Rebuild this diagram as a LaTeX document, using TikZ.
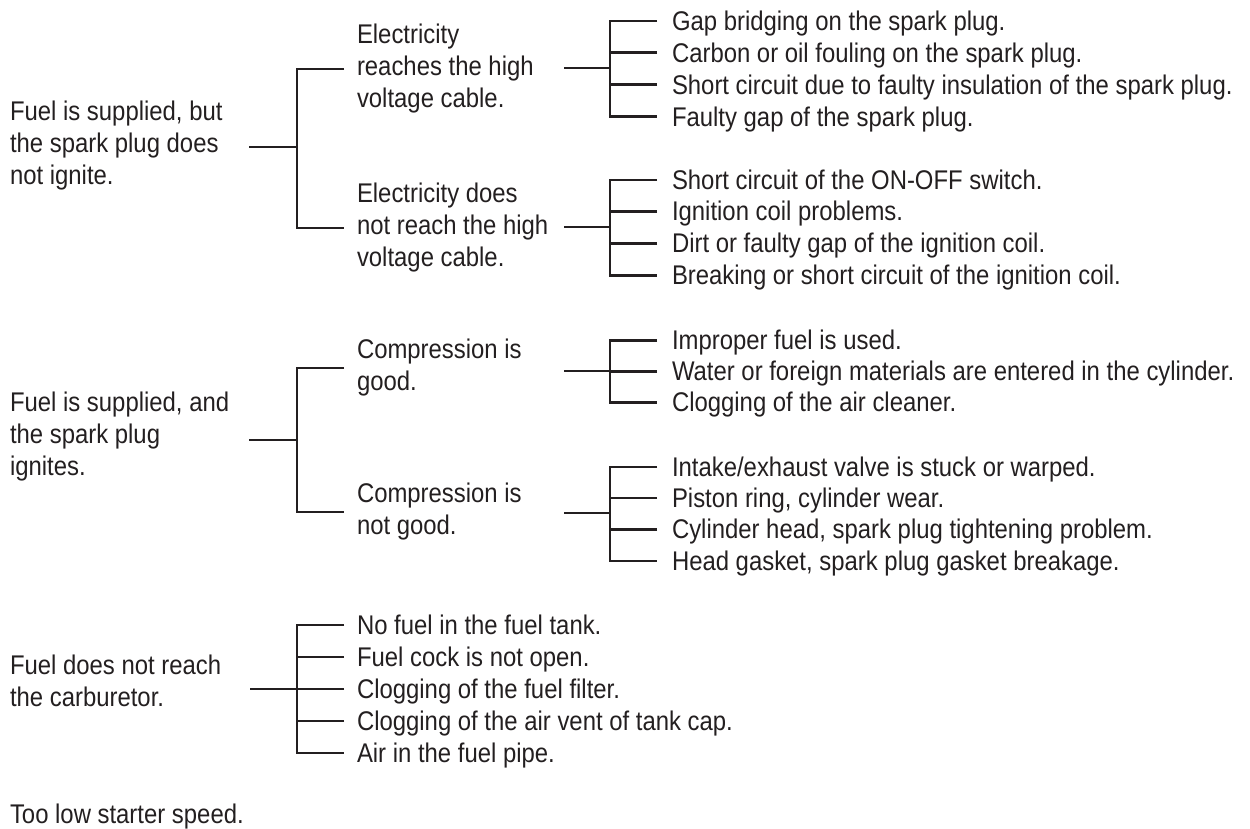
\documentclass[tikz,border=0pt]{standalone}
\usepackage{fontspec}
\setmainfont[FakeStretch=0.885]{Liberation Sans}
\definecolor{ink}{HTML}{231F20}
\newcommand\lstr{\rule[-5pt]{0pt}{29.4pt}}
\tikzset{
  lbl/.style={inner sep=0pt, outer sep=0pt, anchor=west, align=left, text=ink,
    font=\fontsize{27}{32}\selectfont,
    execute at begin node=\lstr, execute at end node=\lstr},
  wire/.style={draw=ink, line width=2.8pt}
}
\begin{document}
\begin{tikzpicture}[x=1pt,y=-1pt]
\useasboundingbox (0,0) rectangle (1250,829);

% ---------- group 1 ----------
\node[lbl] (g1) at (10,146) {Fuel is supplied, but\\the spark plug does\\not ignite.};
\node[lbl] (e1) at (357,69) {Electricity\\reaches the high\\voltage cable.};
\node[lbl] (e2) at (357,228) {Electricity does\\not reach the high\\voltage cable.};
\node[lbl] (a1) at (672,21) {Gap bridging on the spark plug.};
\node[lbl] (a2) at (672,52.9) {Carbon or oil fouling on the spark plug.};
\node[lbl] (a3) at (672,84.8) {Short circuit due to faulty insulation of the spark plug.};
\node[lbl] (a4) at (672,116.7) {Faulty gap of the spark plug.};
\node[lbl] (b1) at (672,180) {Short circuit of the ON-OFF switch.};
\node[lbl] (b2) at (672,211.5) {Ignition coil problems.};
\node[lbl] (b3) at (672,243.5) {Dirt or faulty gap of the ignition coil.};
\node[lbl] (b4) at (672,275.5) {Breaking or short circuit of the ignition coil.};

\coordinate (g1s) at (249,147);
\coordinate (g1j) at (297,147);
\coordinate (e1s) at (564,68);
\coordinate (e1j) at (610,68);
\coordinate (e2s) at (564,227);
\coordinate (e2j) at (610,227);

\draw[wire] (g1s) -- (g1j);
\draw[wire] ([xshift=-13pt]e1.west) -- (e1.west -| g1j) -- (e2.west -| g1j) -- ([xshift=-13pt]e2.west);
\draw[wire] (e1s) -- (e1j);
\draw[wire] ([xshift=-15pt]a1.west) -- (a1.west -| e1j) -- (a4.west -| e1j) -- ([xshift=-15pt]a4.west);
\foreach \n in {a2,a3} \draw[wire] ([xshift=-15pt]\n.west) -- (\n.west -| e1j);
\draw[wire] (e2s) -- (e2j);
\draw[wire] ([xshift=-15pt]b1.west) -- (b1.west -| e2j) -- (b4.west -| e2j) -- ([xshift=-15pt]b4.west);
\foreach \n in {b2,b3} \draw[wire] ([xshift=-15pt]\n.west) -- (\n.west -| e2j);

% ---------- group 2 ----------
\node[lbl] (g2) at (10,437) {Fuel is supplied, and\\the spark plug\\ignites.};
\node[lbl] (c1) at (357,368) {Compression is\\good.};
\node[lbl] (c2) at (357,512) {Compression is\\not good.};
\node[lbl] (d1) at (672,340.5) {Improper fuel is used.};
\node[lbl] (d2) at (672,371.5) {Water or foreign materials are entered in the cylinder.};
\node[lbl] (d3) at (672,402.5) {Clogging of the air cleaner.};
\node[lbl] (f1) at (672,467) {Intake/exhaust valve is stuck or warped.};
\node[lbl] (f2) at (672,498) {Piston ring, cylinder wear.};
\node[lbl] (f3) at (672,529.5) {Cylinder head, spark plug tightening problem.};
\node[lbl] (f4) at (672,561) {Head gasket, spark plug gasket breakage.};

\coordinate (g2s) at (249,440);
\coordinate (g2j) at (297,440);
\coordinate (c1s) at (564,371);
\coordinate (c1j) at (610,371);
\coordinate (c2s) at (564,513);
\coordinate (c2j) at (610,513);

\draw[wire] (g2s) -- (g2j);
\draw[wire] ([xshift=-13pt]c1.west) -- (c1.west -| g2j) -- (c2.west -| g2j) -- ([xshift=-13pt]c2.west);
\draw[wire] (c1s) -- (c1j);
\draw[wire] ([xshift=-15pt]d1.west) -- (d1.west -| c1j) -- (d3.west -| c1j) -- ([xshift=-15pt]d3.west);
\draw[wire] ([xshift=-15pt]d2.west) -- (d2.west -| c1j);
\draw[wire] (c2s) -- (c2j);
\draw[wire] ([xshift=-15pt]f1.west) -- (f1.west -| c2j) -- (f4.west -| c2j) -- ([xshift=-15pt]f4.west);
\foreach \n in {f2,f3} \draw[wire] ([xshift=-15pt]\n.west) -- (\n.west -| c2j);

% ---------- group 3 ----------
\node[lbl] (g3) at (10,683) {Fuel does not reach\\the carburetor.};
\node[lbl] (h1) at (357,625) {No fuel in the fuel tank.};
\node[lbl] (h2) at (357,657) {Fuel cock is not open.};
\node[lbl] (h3) at (357,689) {Clogging of the fuel filter.};
\node[lbl] (h4) at (357,721) {Clogging of the air vent of tank cap.};
\node[lbl] (h5) at (357,753) {Air in the fuel pipe.};

\coordinate (g3s) at (250,689);
\coordinate (g3j) at (297,689);
\draw[wire] (g3s) -- (g3j);
\draw[wire] ([xshift=-13pt]h1.west) -- (h1.west -| g3j) -- (h5.west -| g3j) -- ([xshift=-13pt]h5.west);
\foreach \n in {h2,h3,h4} \draw[wire] ([xshift=-13pt]\n.west) -- (\n.west -| g3j);

% ---------- single item ----------
\node[lbl] (t) at (10,814) {Too low starter speed.};
\end{tikzpicture}
\end{document}
